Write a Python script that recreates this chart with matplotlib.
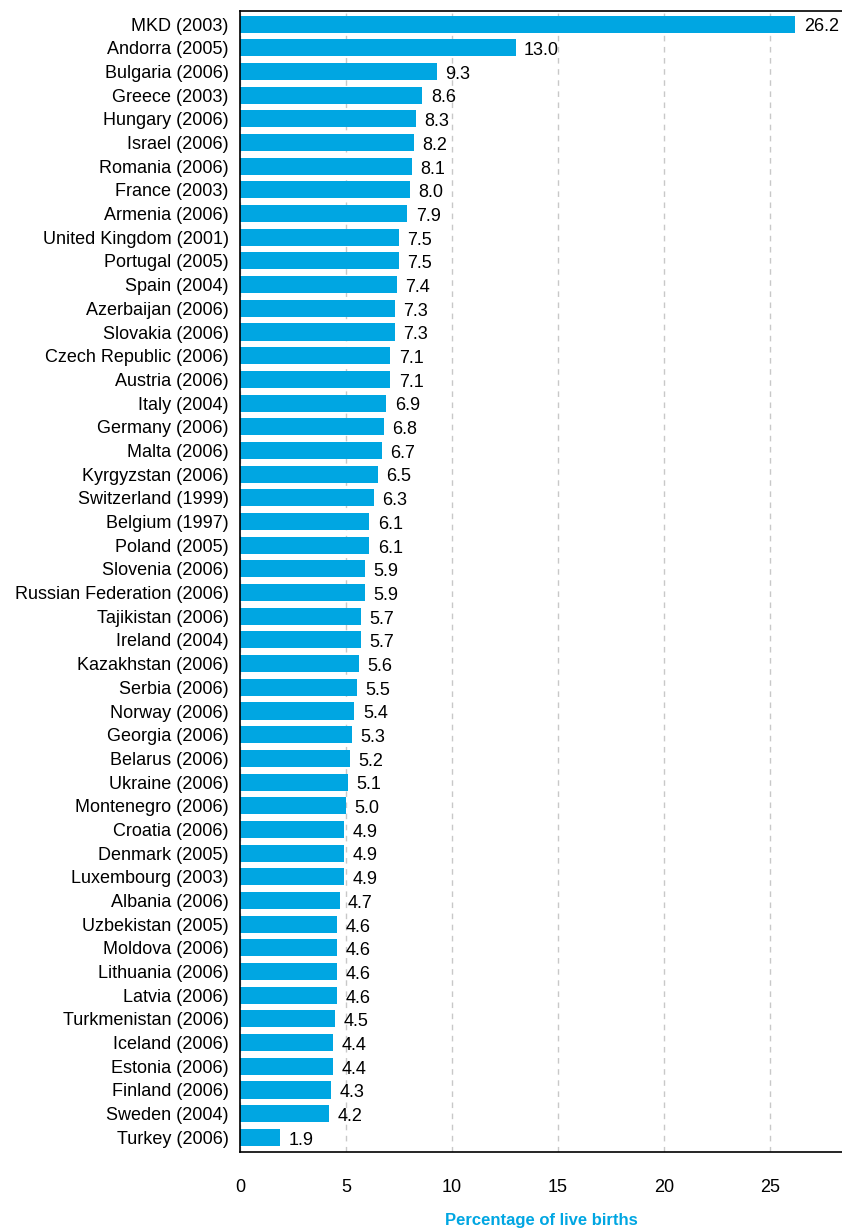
import matplotlib.pyplot as plt

# Country (year) labels, top to bottom
countries = [
    'MKD (2003)', 'Andorra (2005)', 'Bulgaria (2006)', 'Greece (2003)',
    'Hungary (2006)', 'Israel (2006)', 'Romania (2006)', 'France (2003)',
    'Armenia (2006)', 'United Kingdom (2001)', 'Portugal (2005)', 'Spain (2004)',
    'Azerbaijan (2006)', 'Slovakia (2006)', 'Czech Republic (2006)', 'Austria (2006)',
    'Italy (2004)', 'Germany (2006)', 'Malta (2006)', 'Kyrgyzstan (2006)',
    'Switzerland (1999)', 'Belgium (1997)', 'Poland (2005)', 'Slovenia (2006)',
    'Russian Federation (2006)', 'Tajikistan (2006)', 'Ireland (2004)', 'Kazakhstan (2006)',
    'Serbia (2006)', 'Norway (2006)', 'Georgia (2006)', 'Belarus (2006)',
    'Ukraine (2006)', 'Montenegro (2006)', 'Croatia (2006)', 'Denmark (2005)',
    'Luxembourg (2003)', 'Albania (2006)', 'Uzbekistan (2005)', 'Moldova (2006)',
    'Lithuania (2006)', 'Latvia (2006)', 'Turkmenistan (2006)', 'Iceland (2006)',
    'Estonia (2006)', 'Finland (2006)', 'Sweden (2004)', 'Turkey (2006)',
]

values = [
    26.2, 13.0, 9.3, 8.6, 8.3, 8.2, 8.1, 8.0, 7.9, 7.5, 7.5, 7.4,
    7.3, 7.3, 7.1, 7.1, 6.9, 6.8, 6.7, 6.5, 6.3, 6.1, 6.1, 5.9,
    5.9, 5.7, 5.7, 5.6, 5.5, 5.4, 5.3, 5.2, 5.1, 5.0, 4.9, 4.9,
    4.9, 4.7, 4.6, 4.6, 4.6, 4.6, 4.5, 4.4, 4.4, 4.3, 4.2, 1.9,
]

xticks = [0, 5, 10, 15, 20, 25]

BLUE = '#00A6E2'
plt.rcParams['font.family'] = ['Liberation Sans', 'DejaVu Sans']

fig = plt.figure(figsize=(8.42, 12.29), dpi=100)
ax = fig.add_axes([0.285, 0.063, 0.715, 0.928])

ypos = list(range(len(countries)))
ax.barh(ypos, values, height=0.72, color=BLUE, zorder=2)

# value labels just right of each bar
for y, v in zip(ypos, values):
    ax.text(v + 0.4, y + 0.12, f'{v:.1f}', va='center', ha='left',
            fontsize=13, color='black')

ax.set_yticks(ypos)
ax.set_yticklabels(countries, fontsize=13)
ax.set_ylim(len(countries) - 0.4, -0.55)
ax.set_xlim(0, 28.4)
ax.set_xticks(xticks)
ax.set_xticklabels([str(t) for t in xticks], fontsize=13)

ax.tick_params(axis='y', length=0, pad=8)
ax.tick_params(axis='x', length=0, pad=20)

ax.xaxis.grid(True, linestyle=(0, (4, 4)), color='#c8c8c8', linewidth=1, zorder=0)
ax.set_axisbelow(True)

for side in ['left', 'bottom', 'top']:
    ax.spines[side].set_color('black')
    ax.spines[side].set_linewidth(1.2)
ax.spines['right'].set_visible(False)

ax.set_xlabel('Percentage of live births', fontsize=12, fontweight='bold',
              color=BLUE, labelpad=12)

fig.savefig('out.png', dpi=100)
